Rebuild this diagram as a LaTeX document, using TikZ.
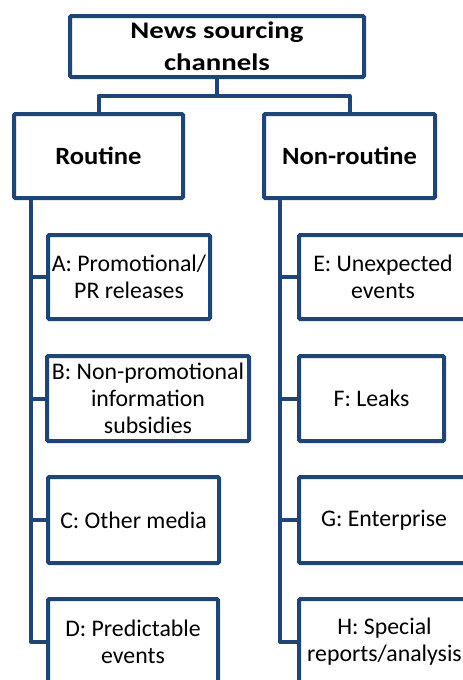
\documentclass[tikz,border=0pt]{standalone}
\usepackage{fontspec}
\setmainfont{Carlito}
\newfontfamily\titlefont[FakeStretch=1.21]{Carlito}
\newfontfamily\headfont[FakeStretch=1.07]{Carlito}
\definecolor{navy}{HTML}{1F4577}
\begin{document}
\begin{tikzpicture}[x=1pt,y=-1pt,
  box/.style={draw=navy, line width=4pt, rounded corners=1.2pt, fill=white,
    inner sep=0pt, outer sep=0pt, align=center, text=black},
  titlebox/.style={box, font=\titlefont\bfseries\fontsize{23.8}{31.6}\selectfont},
  headbox/.style={box, font=\headfont\bfseries\fontsize{24.8}{30}\selectfont},
  leafbox/.style={box, font=\fontsize{23.8}{27}\selectfont},
  link/.style={draw=navy, line width=4pt, line join=round}]
\useasboundingbox (0,0) rectangle (463,680);
\clip (0,0) rectangle (463,680);

% top level and the two channel types
\node[titlebox, minimum width=294pt, minimum height=61pt] (top) at (217,46.5) {News sourcing\\channels};
\node[headbox, minimum width=169pt, minimum height=84pt] (routine) at (98.5,156) {Routine};
\node[headbox, minimum width=171pt, minimum height=84pt] (nonroutine) at (349.5,156) {Non-routine};

% routine channels
\node[leafbox, minimum width=162pt, minimum height=84pt] (A) at (129,277) {A: Promotional/\\PR releases};
\node[leafbox, minimum width=202pt, minimum height=85pt] (B) at (148,398.5) {B: Non-promotional\\information\\subsidies};
\node[leafbox, minimum width=171pt, minimum height=86pt] (C) at (133.5,520) {C: Other media};
\node[leafbox, minimum width=170pt, minimum height=86pt] (D) at (133,642) {D: Predictable\\events};

% non-routine channels
\node[leafbox, minimum width=168pt, minimum height=84pt] (E) at (383,277) {E: Unexpected\\events};
\node[leafbox, minimum width=145pt, minimum height=85pt] (F) at (371.5,398.5) {F: Leaks};
\node[leafbox, minimum width=170pt, minimum height=86pt] (G) at (384,520) {G: Enterprise};
\node[leafbox, minimum width=171pt, minimum height=86pt] (H) at (384.5,642) {H: Special\\reports/analysis};

% connectors
\path[link] (top.south) -- ++(0,19) coordinate (fork) -| (routine.north);
\path[link] (fork) -| (nonroutine.north);
\foreach \n in {A,B,C,D}
  \path[link] ([xshift=17pt]routine.south west) |- (\n.west);
\foreach \n in {E,F,G,H}
  \path[link] ([xshift=16pt]nonroutine.south west) |- (\n.west);
\end{tikzpicture}
\end{document}
